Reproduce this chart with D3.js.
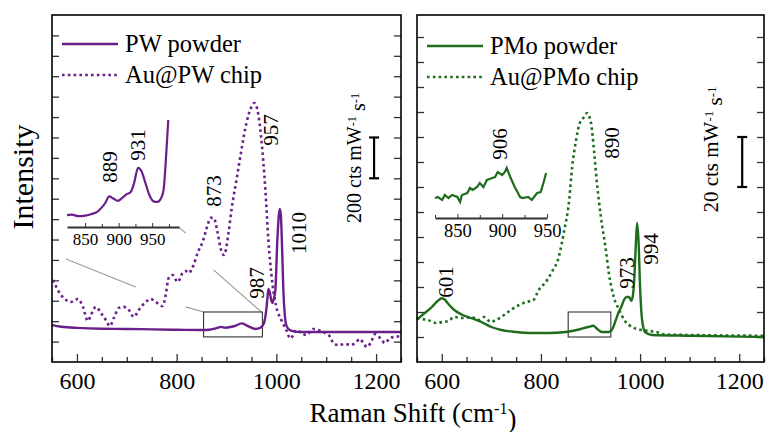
<!DOCTYPE html>
<html><head><meta charset="utf-8">
<script src="https://cdn.jsdelivr.net/npm/d3@7"></script>
<style>
body{margin:0;background:#fff}
svg{display:block}
text{font-family:"Liberation Serif","Times New Roman",serif;fill:#000}
</style>
</head><body>
<svg id="chart" width="767" height="432"></svg>
<script>
// ---------------- DATA ----------------
const xMajorTicks = [600, 800, 1000, 1200];
const xMinorTicks = d3.range(550, 1251, 50);
const pwYTicks = d3.range(100, 1601, 100);
const pmoYTicks = d3.range(10, 131, 10);
const insetPWTicks = [850, 900, 950];
const insetPWMinor = [875, 925, 975];
const insetPMoTicks = [850, 900, 950];
const insetPMoMinor = [825, 875, 925];

// PW powder (solid purple) : Raman shift / intensity (cts mW-1 s-1)
const pwPowderShift = [550,560,580,600,650,700,750,800,850,865,880,889,898,915,931,945,958,968,975,979,982,984,987,990,992,995,998,1002,1005,1007,1009,1012,1014,1017,1020,1025,1035,1050,1100,1150,1200,1250];
const pwPowderInt   = [181,176,170,167,163,162,160,158,157,158,166,172,168,175,189,173,162,168,190,240,310,358,340,300,289,310,353,598,720,750,720,520,353,230,180,160,150,147,147,147,147,147];
// Au@PW chip (dotted purple)
const pwChipShift = [552,564,578,588,602,612,622,628,638,648,658,666,674,684,694,704,714,724,738,748,758,772,778,784,792,802,812,818,824,834,842,852,862,868,874,882,888,895,904,910,920,930,940,950,956,962,970,978,984,992,1000,1010,1020,1028,1034,1040,1050,1060,1074,1084,1094,1108,1114,1124,1138,1150,1160,1168,1174,1182,1190,1198,1208,1218,1228,1238,1250];
const pwChipInt   = [402,343,304,294,309,270,201,230,270,240,206,176,216,265,270,255,221,255,294,309,294,274,328,412,426,392,436,446,436,475,534,588,671,706,706,637,559,524,632,745,892,1039,1171,1250,1269,1235,1088,843,598,387,270,206,157,115,132,157,142,132,162,157,147,123,93,83,88,83,98,113,93,74,98,137,118,93,118,123,127];
// PW inset (magnified powder, a.u.)
const pwInsetShift = [823,830,840,850,860,868,875,880,886,892,899,905,912,918,923,929,934,940,946,952,958,963,967,970,974];
const pwInsetInt   = [9,9.5,8,8.5,10,12,16,20,26,24,22,24.5,28,30,38,52,49,38,27,21.5,21,24,32,55,95.5];

// PMo powder (solid green)
const pmoPowderShift = [550,565,580,592,600,606,612,624,640,660,680,700,720,750,780,815,850,877,895,906,912,923,937,945,951,957,962,968,973,978,982,985,988,991,994,997,1000,1004,1010,1024,1100,1250];
const pmoPowderInt   = [17,19.5,22,24.5,25.5,25,23.5,21,19,17.5,16,14,12.8,12,11.6,11.6,12,13,14,14.5,13.5,12,12,13.5,16.8,20,22,25,26,26,24.5,26,32,45,55.6,48,30,17,12,10.8,10.5,10];
// Au@PMo chip (dotted green)
const pmoChipShift = [550,560,572,588,602,614,624,642,659,675,685,699,709,723,739,756,770,784,796,810,822,836,846,857,863,871,877,887,893,901,907,913,921,931,937,947,958,968,984,1002,1020,1032,1050,1100,1250];
const pmoChipInt   = [17.6,17.2,16.8,15.6,16,16.4,18,17.6,18,16.8,18,16,16.8,18.4,20.8,22.8,24,24.6,29,32,36,42,51.6,64.8,78,88.8,94.8,98,99.6,95.6,84.8,71.6,58,44.8,35.6,26,20.8,16.8,14,12.8,12.4,12,11,10.8,10.5];
// PMo inset (magnified powder, a.u.)
const pmoInsetShift = [825,828,833,836,840,844,850,853,855,861,864,867,872,875,879,883,889,892,895,900,903,905,909,914,920,923,929,933,939,943,946,949];
const pmoInsetInt   = [20,21,18,23,20,23,21,16,23,25,30,28,31,35,31,38,40,41,46,43,46,50,41,31,21,20,21,18,25,26,35,45];

// ---------------- DRAW ----------------
const svg = d3.select("#chart");
const TOP = 15, BOT = 362;
const PURPLE = "#6a1f8a", GREEN = "#1d6d1d";

function line(x, y, xs, ys, curve) {
  return d3.line().x((d,i)=>x(xs[i])).y((d,i)=>y(ys[i])).curve(curve || d3.curveMonotoneX)(xs);
}

function panel(o) {
  const g = svg.append("g");
  const x = d3.scaleLinear().domain([550, 1250]).range([o.x0, o.x1]);
  const y = d3.scaleLinear().domain(o.yDomain).range([BOT, TOP]);

  // axes (ticks inward)
  const bx = g.append("g").attr("transform", `translate(0,${BOT})`)
    .call(d3.axisBottom(x).tickValues(xMajorTicks).tickSize(-8).tickPadding(10).tickFormat(d3.format("d")));
  bx.selectAll("text").style("font-size", "24px");
  g.append("g").attr("transform", `translate(0,${BOT})`)
    .call(d3.axisBottom(x).tickValues(xMinorTicks.filter(v=>!xMajorTicks.includes(v))).tickSize(-5).tickFormat(""));
  g.append("g").attr("transform", `translate(${o.x0},0)`)
    .call(d3.axisLeft(y).tickValues(o.yTicks).tickSize(-7).tickFormat(""));
  g.append("g").attr("transform", `translate(${o.x1},0)`)
    .call(d3.axisRight(y).tickValues(o.yTicks).tickSize(-7).tickFormat(""));
  g.selectAll(".domain").remove();
  g.selectAll(".tick line").attr("stroke", "#000").attr("stroke-width", 1.3);

  // connectors
  if (o.connectors) {
    o.connectors.forEach(c => g.append("line")
      .attr("x1", x(c[0])).attr("y1", y(c[1])).attr("x2", x(c[2])).attr("y2", y(c[3]))
      .attr("stroke", "#9a9a9a").attr("stroke-width", 1.1));
  }
  // zoom box
  g.append("rect").attr("x", x(o.box[0])).attr("y", y(o.box[3]))
    .attr("width", x(o.box[1]) - x(o.box[0])).attr("height", y(o.box[2]) - y(o.box[3]))
    .attr("fill", "none").attr("stroke", "#333").attr("stroke-width", 1.1);

  // series
  g.append("path").attr("d", line(x, y, o.chipX, o.chipY))
    .attr("fill", "none").attr("stroke", o.color).attr("stroke-width", 2.6)
    .attr("stroke-dasharray", "2.6 3.2");
  g.append("path").attr("d", line(x, y, o.powX, o.powY))
    .attr("fill", "none").attr("stroke", o.color).attr("stroke-width", 2.4);

  // inset
  const ix = d3.scaleLinear().domain(o.inset.domain).range(o.inset.range);
  const iy = d3.scaleLinear().domain(o.inset.yDomain).range(o.inset.yRange);
  const ia = g.append("g").attr("transform", `translate(0,${o.inset.axisY})`)
    .call(d3.axisBottom(ix).tickValues(o.inset.ticks).tickSize(-4).tickSizeOuter(0).tickPadding(6).tickFormat(d3.format("d")));
  ia.selectAll("text").style("font-size", o.inset.font + "px");
  g.append("g").attr("transform", `translate(0,${o.inset.axisY})`)
    .call(d3.axisBottom(ix).tickValues(o.inset.minor).tickSize(-3).tickSizeOuter(0).tickFormat(""))
    .select(".domain").remove();
  ia.select(".domain").attr("stroke", "#333").attr("stroke-width", 1.8);
  g.selectAll(".tick line").attr("stroke", "#333");
  g.append("path").attr("d", line(ix, iy, o.inset.xs, o.inset.ys, o.inset.curve))
    .attr("fill", "none").attr("stroke", o.color).attr("stroke-width", 2.2);

  // frame
  g.append("rect").attr("x", o.x0).attr("y", TOP).attr("width", o.x1 - o.x0).attr("height", BOT - TOP)
    .attr("fill", "none").attr("stroke", "#000").attr("stroke-width", 1.6);

  // legend
  const L = o.legend;
  g.append("line").attr("x1", L.x).attr("x2", L.x + 56).attr("y1", L.y1).attr("y2", L.y1)
    .attr("stroke", o.color).attr("stroke-width", 2.4);
  g.append("line").attr("x1", L.x).attr("x2", L.x + 56).attr("y1", L.y2).attr("y2", L.y2)
    .attr("stroke", o.color).attr("stroke-width", 2.6).attr("stroke-dasharray", "2.6 3.2");
  g.append("text").attr("x", L.x + 63).attr("y", L.y1 + 8).style("font-size", "24.5px").text(o.names[0]);
  g.append("text").attr("x", L.x + 63).attr("y", L.y2 + 8).style("font-size", "24.5px").text(o.names[1]);

  // peak labels
  function vlabel(px, py, t, size) {
    g.append("text").attr("transform", `translate(${px},${py}) rotate(-90)`)
      .attr("text-anchor", "middle").attr("dy", "0.35em").style("font-size", size + "px").text(t);
  }
  o.labels.forEach(l => vlabel(x(l[1]), y(l[2]), l[0], 21));
  o.inset.labels.forEach(l => vlabel(ix(l[1]), iy(l[2]), l[0], 21));

  // scale bar
  const sb = o.scale;
  const bx0 = x(sb.x);
  g.append("line").attr("x1", bx0).attr("x2", bx0).attr("y1", y(sb.lo)).attr("y2", y(sb.hi)).attr("stroke", "#000").attr("stroke-width", 2.2);
  [sb.lo, sb.hi].forEach(v => g.append("line").attr("x1", bx0 - 5).attr("x2", bx0 + 5).attr("y1", y(v)).attr("y2", y(v)).attr("stroke", "#000").attr("stroke-width", 2.2));
  const t = g.append("text").attr("transform", `translate(${x(sb.tx)},${y(sb.ty)}) rotate(-90)`)
    .attr("text-anchor", "middle").style("font-size", sb.font + "px");
  t.append("tspan").text(sb.label + " cts mW");
  t.append("tspan").attr("dy", "-0.45em").style("font-size", (sb.font*0.62) + "px").text("-1");
  t.append("tspan").attr("dy", "0.45em").text(" s");
  t.append("tspan").attr("dy", "-0.45em").style("font-size", (sb.font*0.62) + "px").text("-1");
}

panel({
  x0: 52, x1: 401, yDomain: [0, 1700], yTicks: pwYTicks, color: PURPLE,
  powX: pwPowderShift, powY: pwPowderInt, chipX: pwChipShift, chipY: pwChipInt,
  names: ["PW powder", "Au@PW chip"],
  legend: {x: 62, y1: 44, y2: 75},
  box: [854, 972, 123, 245],
  connectors: [[578,505,718,367],[818,270,854,245],[804,661,818,632],[874,451,970,245]],
  labels: [["873",874,838],["957",988,1137],["987",960,387],["1010",1044,632]],
  scale: {x: 1196, lo: 900, hi: 1100, tx: 1170, ty: 1000, label: "200", font: 20},
  inset: {domain: [823, 990], range: [67, 179], axisY: 227, yDomain: [0,100], yRange: [225,115],
          ticks: insetPWTicks, minor: insetPWMinor, font: 17, xs: pwInsetShift, ys: pwInsetInt,
          labels: [["889",887,52.7],["931",929,72.7]]}
});

panel({
  x0: 417, x1: 764, yDomain: [0, 138.8], yTicks: pmoYTicks, color: GREEN,
  powX: pmoPowderShift, powY: pmoPowderInt, chipX: pmoChipShift, chipY: pmoChipInt,
  names: ["PMo powder", "Au@PMo chip"],
  legend: {x: 427, y1: 46, y2: 77},
  box: [855, 941, 10, 20],
  connectors: null,
  labels: [["890",943,87.6],["601",608,32],["973",972,35.6],["994",1022,45.2]],
  scale: {x: 1206, lo: 70, hi: 90, tx: 1158, ty: 85, label: "20", font: 21},
  inset: {domain: [825, 950], range: [435, 547], axisY: 218, yDomain: [0,60], yRange: [218,158],
          ticks: insetPMoTicks, minor: insetPMoMinor, font: 18.5, xs: pmoInsetShift, ys: pmoInsetInt,
          curve: d3.curveLinear, labels: [["906",897.5,74]]}
});

// axis titles
svg.append("text").attr("transform", "translate(33,177) rotate(-90)").attr("text-anchor", "middle")
  .style("font-size", "30px").text("Intensity");
const xt = svg.append("text").attr("x", 413).attr("y", 422).attr("text-anchor", "middle").style("font-size", "27px");
xt.append("tspan").text("Raman Shift (cm");
xt.append("tspan").attr("dy", "-0.5em").style("font-size", "16px").text("-1");
xt.append("tspan").attr("dy", "0.5em").text(")");
</script>
</body></html>
